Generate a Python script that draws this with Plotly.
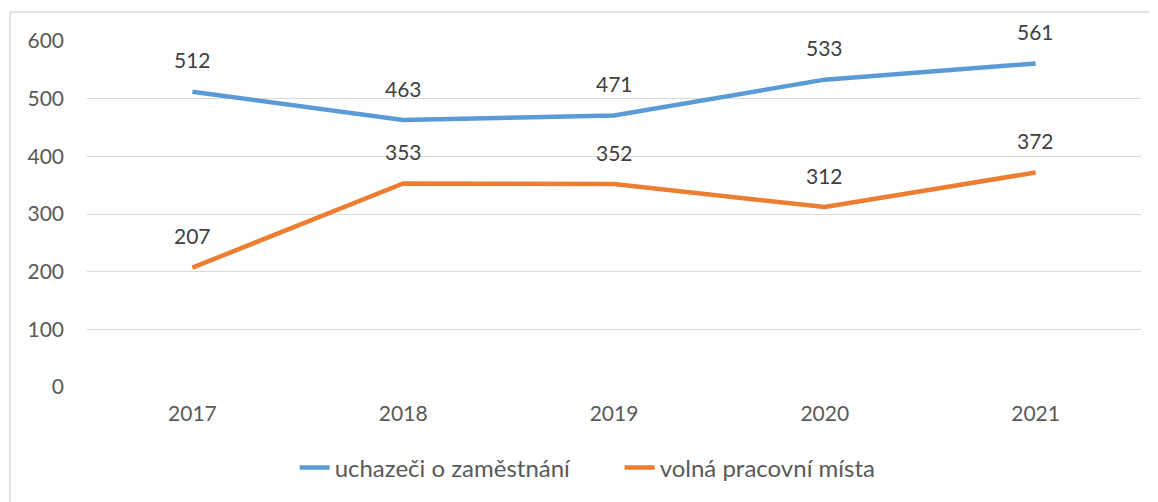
import plotly.graph_objects as go

years = ["2017", "2018", "2019", "2020", "2021"]
uchazeci = [512, 463, 471, 533, 561]
volna_mista = [207, 353, 352, 312, 372]
series_names = ["uchazeči o zaměstnání", "volná pracovní místa"]
y_ticks = [0, 100, 200, 300, 400, 500, 600]

BLUE = "#5B9BD5"
ORANGE = "#ED7D31"
FONT = "Lato"

fig = go.Figure()
fig.add_trace(go.Scatter(x=years, y=uchazeci, mode="lines", name=series_names[0],
                         line=dict(color=BLUE, width=4.5)))
fig.add_trace(go.Scatter(x=years, y=volna_mista, mode="lines", name=series_names[1],
                         line=dict(color=ORANGE, width=4.5)))

annotations = []
for vals in (uchazeci, volna_mista):
    for i, v in enumerate(vals):
        annotations.append(dict(x=i, y=v, xref="x", yref="y", text=str(v), showarrow=False,
                                yshift=32, font=dict(family=FONT, size=21, color="#404040")))

fig.update_layout(
    width=1158, height=502,
    margin=dict(l=79, r=25, t=33, b=123),
    paper_bgcolor="white", plot_bgcolor="white",
    font=dict(family=FONT, size=21, color="#595959"),
    showlegend=True,
    legend=dict(orientation="h", x=0.197, xanchor="left", y=-0.234, yanchor="middle",
                font=dict(family=FONT, size=24, color="#595959"),
                entrywidth=280, entrywidthmode="pixels",
                tracegroupgap=0),
    annotations=annotations,
    xaxis=dict(type="category", range=[-0.5, 4.5], showgrid=False, zeroline=False,
               showline=False, ticks="", ticklabelstandoff=12,
               tickfont=dict(family=FONT, size=21, color="#595959")),
    yaxis=dict(range=[0, 600], tickvals=y_ticks, showgrid=True, gridcolor="#D9D9D9",
               gridwidth=1.3, zeroline=False, showline=False, ticks="",
               ticklabelstandoff=22,
               tickfont=dict(family=FONT, size=21, color="#595959")),
    shapes=[
        dict(type="line", xref="paper", yref="paper", x0=-0.073, x1=1.1, y0=1.0838, y1=1.0838,
             line=dict(color="#D9D9D9", width=1.5)),
        dict(type="line", xref="paper", yref="paper", x0=-0.073, x1=-0.073, y0=-0.4, y1=1.0838,
             line=dict(color="#D9D9D9", width=1.5)),
    ],
)

fig.write_html("out.html")
